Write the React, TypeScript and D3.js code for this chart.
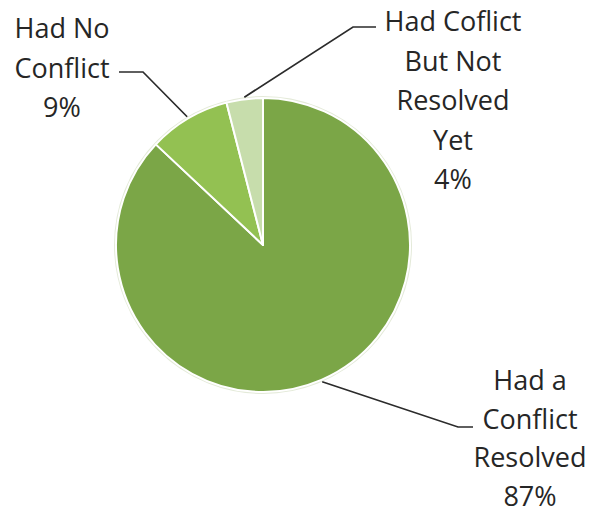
import React from "react";
import * as d3 from "d3";

const categories = ["Had a Conflict Resolved", "Had No Conflict", "Had Coflict But Not Resolved Yet"];
const values = [87, 9, 4];
const labelLines = [
  ["Had a", "Conflict", "Resolved", "87%"],
  ["Had No", "Conflict", "9%"],
  ["Had Coflict", "But Not", "Resolved", "Yet", "4%"],
];
const colors = ["#7ba647", "#93c152", "#c7ddac"];

const W = 596;
const H = 515;
const cx = 263;
const cy = 245;
const R = 147;

// label layout: text center x, first line center y, line spacing, elbow point, horizontal end
const labelLayout = [
  { x: 530, y: 381, lh: 38.5, elbow: [458, 427], end: [473, 427] },
  { x: 62, y: 29, lh: 39.5, elbow: [143, 72], end: [119, 72] },
  { x: 453, y: 22, lh: 39.5, elbow: [353, 27], end: [376, 27] },
];

export default function App() {
  const pie = d3.pie<number>().value((d) => d).sort(null);
  const arcs = pie(values);
  const arc = d3.arc<d3.PieArcDatum<number>>().innerRadius(0).outerRadius(R);
  const outer = d3.arc<d3.PieArcDatum<number>>().innerRadius(R + 2).outerRadius(R + 2);

  return (
    <svg
      width={W}
      height={H}
      style={{ position: "absolute", left: 0, top: 0, background: "#fff" }}
      fontFamily="'Open Sans', 'Liberation Sans', sans-serif"
    >
      <g transform={`translate(${cx},${cy})`}>
        <circle r={R + 1} fill="none" stroke="#e4ead9" strokeWidth={2} />
        {arcs.map((a, i) => (
          <path key={categories[i]} d={arc(a) || ""} fill={colors[i]} stroke="#ffffff" strokeWidth={2} strokeLinejoin="round" />
        ))}
      </g>
      {arcs.map((a, i) => {
        const [px, py] = outer.centroid(a);
        const L = labelLayout[i];
        return (
          <polyline
            key={"l" + i}
            points={`${cx + px},${cy + py} ${L.elbow[0]},${L.elbow[1]} ${L.end[0]},${L.end[1]}`}
            fill="none"
            stroke="#2b2b2b"
            strokeWidth={1.7}
          />
        );
      })}
      {labelLines.map((lines, i) => {
        const L = labelLayout[i];
        return (
          <text key={"t" + i} textAnchor="middle" fontSize={27} fill="#262626">
            {lines.map((ln, j) => (
              <tspan key={j} x={L.x} y={L.y + j * L.lh} dy="0.35em">
                {ln}
              </tspan>
            ))}
          </text>
        );
      })}
    </svg>
  );
}
